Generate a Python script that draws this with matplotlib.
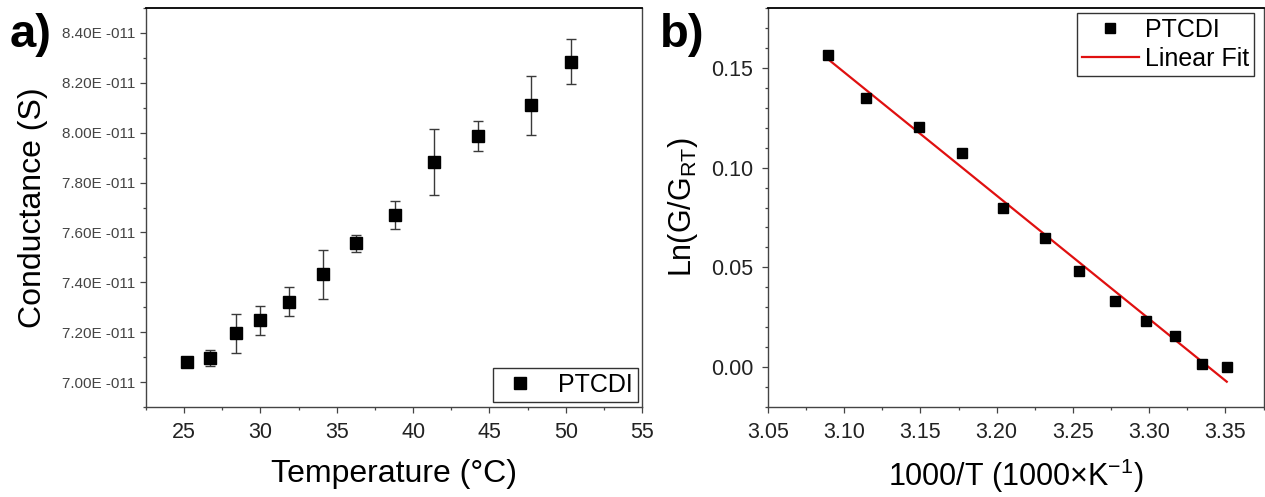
import numpy as np
import matplotlib
matplotlib.use('Agg')
import matplotlib.pyplot as plt
from matplotlib.ticker import MultipleLocator, FuncFormatter

plt.rcParams['font.family'] = ['Liberation Sans', 'DejaVu Sans']
plt.rcParams['mathtext.fontset'] = 'custom'
plt.rcParams['mathtext.rm'] = 'Liberation Sans'
plt.rcParams['mathtext.it'] = 'Liberation Sans:italic'

# a) conductance vs temperature
temp = [25.2, 26.7, 28.4, 29.95, 31.9, 34.1, 36.25, 38.8, 41.4, 44.25, 47.75, 50.35]
cond = [7.08, 7.097, 7.195, 7.247, 7.323, 7.432, 7.556, 7.671, 7.883, 7.987, 8.110, 8.285]
cond_err = [0.01, 0.033, 0.079, 0.057, 0.059, 0.098, 0.034, 0.057, 0.133, 0.059, 0.118, 0.09]
cond_ticks = [7.0, 7.2, 7.4, 7.6, 7.8, 8.0, 8.2, 8.4]

# b) Arrhenius-type plot
invT = [3.0895, 3.1144, 3.1493, 3.1772, 3.2043, 3.2317, 3.2542, 3.2773, 3.2980, 3.3168, 3.3347, 3.3509]
lnG = [0.1566, 0.1349, 0.1203, 0.1072, 0.0800, 0.0649, 0.0481, 0.0333, 0.0231, 0.0156, 0.0015, -0.0002]

W, H = 1265, 497
fig = plt.figure(figsize=(W / 100, H / 100), dpi=100)

def px_axes(l, t, r, b):
    return fig.add_axes([l / W, 1 - b / H, (r - l) / W, (b - t) / H])

ax1 = px_axes(146, 8, 642, 407)
ax2 = px_axes(768, 8, 1263.5, 407)

for ax in (ax1, ax2):
    for s in ['left', 'bottom', 'right']:
        ax.spines[s].set_color('#444444')
        ax.spines[s].set_linewidth(1.0)
    ax.spines['top'].set_color('black')
    ax.spines['top'].set_linewidth(1.3)
    ax.tick_params(which='major', direction='out', length=4.5, width=0.9, color='#444444',
                   top=False, right=False)
    ax.tick_params(which='minor', direction='out', length=2.5, width=0.9, color='#444444',
                   top=False, right=False)

# panel a
cond_v = np.array(cond) * 1e-11
err_v = np.array(cond_err) * 1e-11
ax1.errorbar(temp, cond_v, yerr=err_v, fmt='none', ecolor='#3a3a3a', elinewidth=1.0,
             capsize=3.5, capthick=1.0, zorder=2)
ax1.plot(temp, cond_v, 's', color='black', markersize=9, label='PTCDI', zorder=3)
ax1.set_xlim(22.5, 55)
ax1.set_ylim(6.9e-11, 8.5e-11)
ax1.set_xticks([25, 30, 35, 40, 45, 50, 55])
ax1.xaxis.set_minor_locator(MultipleLocator(2.5))
ax1.set_yticks(np.array(cond_ticks) * 1e-11)
ax1.yaxis.set_minor_locator(MultipleLocator(0.1e-11))
ax1.yaxis.set_major_formatter(FuncFormatter(lambda v, p: '%.2fE -011' % (v * 1e11)))
ax1.tick_params(axis='y', labelsize=11, labelcolor='#444444', pad=3)
ax1.tick_params(axis='x', labelsize=15.5, labelcolor='#222222', pad=6)
ax1.set_xlabel('Temperature (\u00b0C)', fontsize=23, labelpad=12)
ax1.set_ylabel('Conductance (S)', fontsize=23, labelpad=10)
leg1 = ax1.legend(loc='lower right', bbox_to_anchor=(0.9913, 0.0133), borderaxespad=0,
                  fontsize=18, numpoints=1, handlelength=1.8, handletextpad=0.6,
                  borderpad=0.2, fancybox=False, frameon=True)
leg1.get_frame().set_edgecolor('black')
leg1.get_frame().set_linewidth(1.0)

# panel b
coef = np.polyfit(invT, lnG, 1)
fx = np.array([min(invT), max(invT)])
ax2.plot(invT, lnG, 's', color='black', markersize=6.5, label='PTCDI', zorder=3)
ax2.plot(fx, np.polyval(coef, fx), '-', color='#e01010', lw=1.6, label='Linear Fit', zorder=2)
ax2.set_xlim(3.05, 3.375)
ax2.set_ylim(-0.02, 0.18)
ax2.set_xticks([3.05, 3.10, 3.15, 3.20, 3.25, 3.30, 3.35])
ax2.set_yticks([0.00, 0.05, 0.10, 0.15])
ax2.xaxis.set_minor_locator(MultipleLocator(0.025))
ax2.yaxis.set_minor_locator(MultipleLocator(0.01))
ax2.xaxis.set_major_formatter(FuncFormatter(lambda v, p: '%.2f' % v))
ax2.yaxis.set_major_formatter(FuncFormatter(lambda v, p: '%.2f' % v))
ax2.tick_params(axis='both', labelsize=15.5, labelcolor='#222222', pad=6)
ax2.set_xlabel('1000/T (1000\u00d7K$^{-1}$)', fontsize=22, labelpad=10)
ax2.set_ylabel('Ln(G/G$_{\\mathrm{RT}}$)', fontsize=22, labelpad=8)
leg2 = ax2.legend(loc='upper right', bbox_to_anchor=(0.9818, 0.9882), borderaxespad=0,
                  fontsize=18, numpoints=1, handlelength=2.3, handletextpad=0.25,
                  borderpad=0.2, labelspacing=0.2, fancybox=False, frameon=True)
leg2.get_frame().set_edgecolor('black')
leg2.get_frame().set_linewidth(1.0)

fig.text(10 / W, 1 - 13 / H, 'a)', fontsize=34, fontweight='bold', va='top', ha='left')
fig.text(660 / W, 1 - 13 / H, 'b)', fontsize=34, fontweight='bold', va='top', ha='left')

fig.savefig('out.png', dpi=100)
